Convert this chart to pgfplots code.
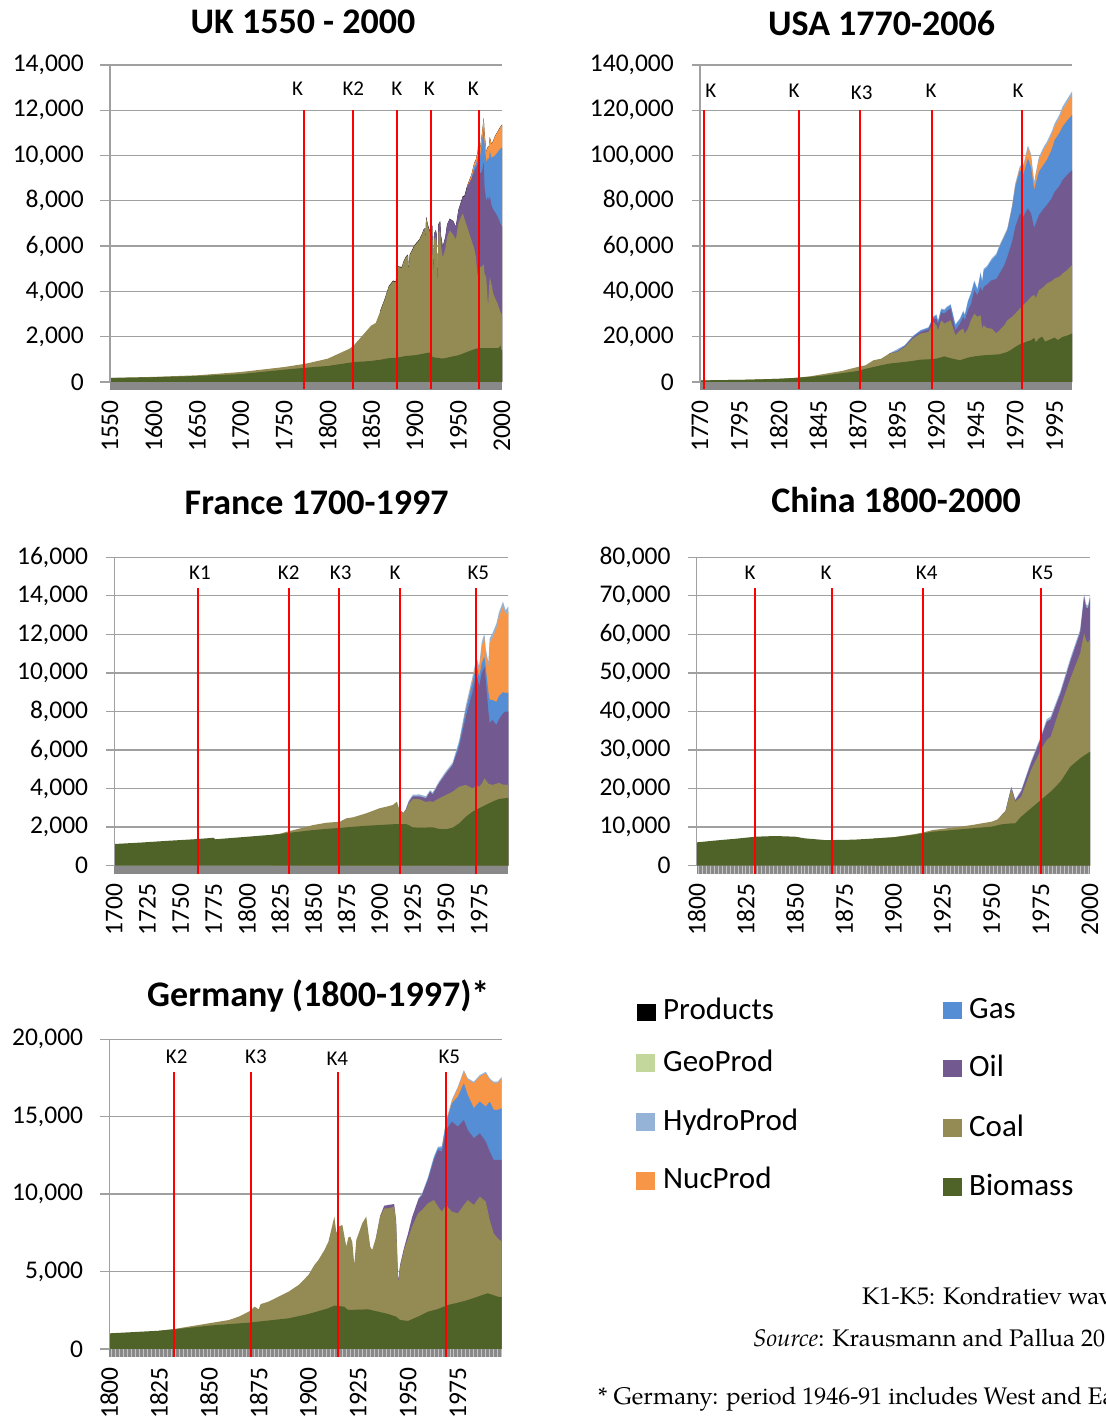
\documentclass[border=0pt]{standalone}
\usepackage{pgfplots}
\pgfplotsset{compat=1.18}
\usepackage{fontspec}
\setmainfont{Carlito}
\newfontfamily\pal{TeX Gyre Pagella}
\definecolor{cbio}{HTML}{4F6228}
\definecolor{ccoal}{HTML}{948A54}
\definecolor{coil}{HTML}{725990}
\definecolor{cgas}{HTML}{558ED5}
\definecolor{cnuc}{HTML}{F79646}
\definecolor{chydro}{HTML}{95B3D7}
\definecolor{cgeo}{HTML}{C3D69B}
\definecolor{gridgray}{HTML}{A0A0A0}
\definecolor{bandgray}{HTML}{898989}
\definecolor{stripegray}{HTML}{C4C4C4}
\newcommand\tickfont{\fontsize{25.5bp}{30bp}\selectfont}
\newcommand\titlefont{\fontsize{36bp}{42bp}\selectfont\bfseries}
\newcommand\kfont{\fontsize{21bp}{25bp}\selectfont}
\newcommand\legfont{\fontsize{31bp}{36bp}\selectfont}
\newcommand\notefont{\fontsize{24bp}{28bp}\selectfont\pal}
\newcommand\klabel[3]{\node[anchor=base,inner sep=0pt,font=\kfont] at (#1bp,#2bp) {#3};}
\pgfplotsset{
  panel/.style={
    scale only axis, clip=false, anchor=south west,
    axis line style={draw=none},
    major tick length=0pt,
    ymajorgrids, xmajorgrids=false,
    grid style={draw=gridgray, line width=1.3bp},
    tick label style={font=\tickfont},
    yticklabel style={anchor=east, inner sep=0pt},
    yticklabel shift=26bp,
    xticklabel style={rotate=90, anchor=east, inner sep=0pt},
    xticklabel shift=18bp,
    scaled y ticks=false,
    /pgf/number format/assume math mode=true,
    yticklabel={\pgfmathprintnumber[fixed,precision=0,1000 sep={,}]{\tick}},
    ymin=0,
  },
  kline/.style={red, line width=2bp},
}
\begin{document}
\begin{tikzpicture}
\path[use as bounding box] (0,0) rectangle (1106bp,1420bp);
\clip (0,0) rectangle (1106bp,1420bp);

% ================= UK =================
\begin{axis}[panel, at={(110bp,1038bp)}, width=392bp, height=317bp,
  xmin=1550, xmax=2000, ymax=14000, ytick={0,2000,4000,6000,8000,10000,12000,14000},
  xtick={1550,1600,1650,1700,1750,1800,1850,1900,1950,2000}, xticklabels={1550,1600,1650,1700,1750,1800,1850,1900,1950,2000}]
\addplot[fill=black, draw=none] coordinates {(1860,3130)(1865,3630)(1870,4230)(1875,4480)(1878,4430)(1880,5110)(1885,5080)(1887,5330)(1890,5560)(1892,5630)(1893,4930)(1894,5630)(1895,5700)(1900,6070)(1905,6290)(1908,6530)(1910,6735)(1911,6800)(1912,6380)(1913,7290)(1915,6930)(1917,6710)(1919,6680)(1920,6920)(1921,4760)(1922,6560)(1924,6710)(1925,6510)(1926,4310)(1927,6960)(1929,7110)(1930,6460)(1932,5980)(1935,6410)(1937,6960)(1940,7210)(1944,7110)(1947,6860)(1950,7600)(1953,7970)(1955,8210)(1957,8230)(1960,8670)(1965,9170)(1968,9665)(1970,9815)(1972,10165)(1973,10665)(1974,10315)(1975,10365)(1977,10965)(1979,11665)(1980,10965)(1982,10165)(1984,10415)(1985,10415)(1986,10815)(1988,10515)(1990,10665)(1992,10865)(1995,11065)(1998,11265)(2000,11365)} \closedcycle;
\addplot[fill=cnuc, draw=none] coordinates {(1960,8650)(1965,9150)(1968,9650)(1970,9800)(1972,10150)(1973,10650)(1974,10300)(1975,10350)(1977,10950)(1979,11650)(1980,10950)(1982,10150)(1984,10400)(1985,10400)(1986,10800)(1988,10500)(1990,10650)(1992,10850)(1995,11050)(1998,11250)(2000,11350)} \closedcycle;
\addplot[fill=cgas, draw=none] coordinates {(1965,8990)(1968,9500)(1970,9600)(1972,9900)(1973,10400)(1974,10000)(1975,10000)(1977,10600)(1979,11200)(1980,10500)(1982,9700)(1984,9900)(1985,9800)(1986,10200)(1988,9900)(1990,9950)(1992,10000)(1995,10150)(1998,10300)(2000,10350)} \closedcycle;
\addplot[fill=coil, draw=none] coordinates {(1910,6700)(1911,6770)(1912,6350)(1913,7260)(1915,6900)(1917,6680)(1919,6650)(1920,6900)(1921,4750)(1922,6550)(1924,6700)(1925,6500)(1926,4300)(1927,6950)(1929,7100)(1930,6450)(1932,5970)(1935,6400)(1937,6950)(1940,7200)(1944,7100)(1947,6850)(1950,7590)(1953,7950)(1955,8180)(1957,8200)(1960,8620)(1965,8990)(1968,9300)(1970,9450)(1972,9600)(1973,9800)(1974,9300)(1975,9200)(1977,9300)(1979,9700)(1980,8600)(1982,8000)(1984,8200)(1985,8000)(1986,8200)(1988,7800)(1990,7600)(1992,7500)(1995,7300)(1998,7000)(2000,6850)} \closedcycle;
\addplot[fill=ccoal, draw=none] coordinates {(1550,180)(1600,225)(1650,295)(1700,440)(1750,660)(1775,810)(1800,1030)(1825,1470)(1830,1620)(1840,2060)(1850,2500)(1855,2600)(1860,3100)(1865,3600)(1870,4200)(1875,4450)(1878,4400)(1880,5080)(1885,5050)(1887,5300)(1890,5530)(1892,5600)(1893,4900)(1894,5600)(1895,5670)(1900,6040)(1905,6260)(1908,6500)(1910,6700)(1911,6750)(1912,6300)(1913,7220)(1915,6850)(1917,6600)(1919,6560)(1920,6750)(1921,4500)(1922,6300)(1924,6400)(1925,6200)(1926,3900)(1927,6600)(1929,6700)(1930,6000)(1932,5500)(1935,5900)(1937,6400)(1940,6700)(1944,6500)(1947,6300)(1950,7000)(1953,7300)(1955,7440)(1957,7200)(1960,6850)(1965,6260)(1968,5900)(1970,5530)(1972,4600)(1973,5300)(1974,4700)(1975,5080)(1977,5100)(1979,5200)(1980,4790)(1982,4600)(1984,3320)(1985,4100)(1986,4640)(1988,4300)(1990,3900)(1992,3700)(1995,3460)(1998,3100)(2000,2950)} \closedcycle;
\addplot[fill=cbio, draw=none] coordinates {(1550,175)(1600,210)(1650,265)(1700,350)(1750,545)(1775,630)(1800,707)(1825,850)(1830,884)(1840,900)(1850,930)(1860,980)(1870,1050)(1880,1075)(1890,1150)(1900,1180)(1910,1250)(1915,1290)(1919,1300)(1920,1100)(1925,1070)(1930,1040)(1935,1050)(1940,1100)(1945,1140)(1950,1180)(1955,1250)(1960,1330)(1965,1400)(1970,1470)(1975,1500)(1980,1500)(1985,1500)(1990,1500)(1995,1500)(1997,1520)(1998,1650)(1999,1450)(2000,1400)} \closedcycle;
\fill[bandgray] (rel axis cs:0,0) rectangle ([yshift=-8bp]rel axis cs:1,0);
\draw[gridgray, line width=1.3bp] (rel axis cs:0,0) -- (rel axis cs:0,1);
\pgfplotsinvokeforeach{0,2000,4000,6000,8000,10000,12000,14000}{\draw[gridgray, line width=1.3bp] (axis cs:1550,#1) -- ([xshift=-10bp]axis cs:1550,#1);}
\addplot[kline] coordinates {(1772.7,-300)(1772.7,12000)};
\addplot[kline] coordinates {(1829,-300)(1829,12000)};
\addplot[kline] coordinates {(1879.5,-300)(1879.5,12000)};
\addplot[kline] coordinates {(1918.5,-300)(1918.5,12000)};
\addplot[kline] coordinates {(1973.6,-300)(1973.6,12000)};
\end{axis}

% ================= USA =================
\begin{axis}[panel, at={(700bp,1038bp)}, width=372bp, height=317bp,
  xmin=1770, xmax=2006, ymax=140000, ytick={0,20000,40000,60000,80000,100000,120000,140000},
  xtick={1770,1795,1820,1845,1870,1895,1920,1945,1970,1995}, xticklabels={1770,1795,1820,1845,1870,1895,1920,1945,1970,1995}]
\addplot[fill=chydro, draw=none] coordinates {(1890,12600)(1900,16300)(1905,20300)(1910,22950)(1915,24200)(1918,28950)(1920,29870)(1921,27100)(1923,32450)(1925,32050)(1927,33450)(1929,34350)(1932,25500)(1935,28200)(1937,31500)(1938,29800)(1940,35900)(1942,39600)(1944,44850)(1946,41150)(1948,48550)(1949,44650)(1950,50050)(1952,51200)(1955,54500)(1958,56700)(1960,60400)(1965,67900)(1968,78100)(1970,87600)(1973,95600)(1975,95500)(1978,104400)(1980,100700)(1982,88300)(1983,92300)(1985,99300)(1988,103800)(1990,106000)(1993,110400)(1995,114200)(1998,118000)(2000,121600)(2003,125000)(2006,128300)} \closedcycle;
\addplot[fill=cnuc, draw=none] coordinates {(1960,59680)(1965,67100)(1968,77200)(1970,86600)(1973,94500)(1975,94300)(1978,103160)(1980,99470)(1982,86950)(1983,91000)(1985,98000)(1988,102500)(1990,104630)(1993,109000)(1995,112730)(1998,116500)(2000,120100)(2003,123500)(2006,126730)} \closedcycle;
\addplot[fill=cgas, draw=none] coordinates {(1890,12530)(1895,13700)(1900,16100)(1905,20100)(1910,22700)(1915,23900)(1918,28600)(1920,29470)(1921,26700)(1923,32000)(1925,31600)(1927,33000)(1929,33890)(1932,25050)(1935,27700)(1937,31000)(1938,29300)(1940,35370)(1942,39000)(1944,44210)(1946,40520)(1948,47890)(1949,44000)(1950,49370)(1952,50500)(1955,53790)(1958,56000)(1960,59680)(1963,64000)(1965,67050)(1968,77000)(1970,86210)(1973,93580)(1975,91370)(1978,98730)(1980,95050)(1982,84730)(1983,87500)(1985,92840)(1988,96000)(1990,98000)(1993,102500)(1995,106840)(1998,110000)(2000,112730)(2003,115500)(2006,117890)} \closedcycle;
\addplot[fill=coil, draw=none] coordinates {(1890,12530)(1895,13500)(1900,15800)(1905,19700)(1910,22100)(1915,23300)(1918,28000)(1920,28000)(1921,25500)(1923,30700)(1925,30210)(1927,31500)(1929,32420)(1932,22840)(1935,25790)(1937,28740)(1938,27260)(1940,31680)(1942,34500)(1944,40520)(1946,38300)(1948,42000)(1949,40000)(1950,42000)(1952,43000)(1955,44950)(1958,45500)(1960,47890)(1963,51500)(1965,55260)(1968,62000)(1970,68520)(1973,74420)(1975,72940)(1978,76630)(1980,74420)(1982,68000)(1983,70000)(1985,73680)(1988,76500)(1990,78100)(1993,81000)(1995,84000)(1998,86500)(2000,89160)(2003,91500)(2006,93580)} \closedcycle;
\addplot[fill=ccoal, draw=none] coordinates {(1770,700)(1780,800)(1800,1000)(1820,1420)(1830,1800)(1840,2500)(1850,3700)(1860,4860)(1870,6630)(1875,7370)(1880,9580)(1885,10300)(1890,12530)(1895,13260)(1900,15470)(1905,19160)(1910,21370)(1915,22100)(1918,26530)(1920,25050)(1921,22840)(1923,27260)(1925,25790)(1927,26530)(1929,27260)(1932,20630)(1935,22840)(1937,23580)(1938,21370)(1940,23580)(1942,27500)(1944,30210)(1946,28740)(1948,29500)(1949,23580)(1950,25050)(1952,23800)(1955,23580)(1958,21500)(1960,22840)(1963,25000)(1965,27260)(1968,28800)(1970,30210)(1973,32500)(1975,33890)(1978,36000)(1980,37580)(1982,38500)(1983,37000)(1985,40520)(1988,42000)(1990,43470)(1993,44500)(1995,45680)(1998,46500)(2000,47890)(2003,49500)(2006,51580)} \closedcycle;
\addplot[fill=cbio, draw=none] coordinates {(1770,700)(1780,800)(1800,1000)(1820,1400)(1830,1770)(1840,2300)(1850,2950)(1860,3900)(1870,4860)(1875,5800)(1880,6600)(1885,7400)(1890,8100)(1895,8500)(1900,8840)(1905,9300)(1910,9870)(1915,10000)(1920,10300)(1925,11300)(1930,10300)(1935,9580)(1940,10750)(1945,11400)(1950,11790)(1955,12000)(1960,12230)(1965,13260)(1968,14500)(1970,15470)(1973,16700)(1975,17240)(1978,18000)(1980,18420)(1982,19500)(1983,17500)(1985,19160)(1987,20000)(1989,17800)(1990,18130)(1993,19000)(1995,19600)(1997,18500)(2000,19900)(2003,20500)(2006,21370)} \closedcycle;
\fill[bandgray] (rel axis cs:0,0) rectangle ([yshift=-8bp]rel axis cs:1,0);
\draw[gridgray, line width=1.3bp] (rel axis cs:0,0) -- (rel axis cs:0,1);
\pgfplotsinvokeforeach{0,20000,40000,60000,80000,100000,120000,140000}{\draw[gridgray, line width=1.3bp] (axis cs:1770,#1) -- ([xshift=-8bp]axis cs:1770,#1);}
\addplot[kline] coordinates {(1772.5,-3000)(1772.5,120000)};
\addplot[kline] coordinates {(1832.8,-3000)(1832.8,120000)};
\addplot[kline] coordinates {(1871.4,-3000)(1871.4,120000)};
\addplot[kline] coordinates {(1917,-3000)(1917,120000)};
\addplot[kline] coordinates {(1974,-3000)(1974,120000)};
\end{axis}

% ================= France =================
\begin{axis}[panel, at={(114.3bp,554.3bp)}, width=394bp, height=308.4bp,
  xmin=1700, xmax=1997, ymax=16000, ytick={0,2000,4000,6000,8000,10000,12000,14000,16000},
  xtick={1700,1725,1750,1775,1800,1825,1850,1875,1900,1925,1950,1975}, xticklabels={1700,1725,1750,1775,1800,1825,1850,1875,1900,1925,1950,1975}]
\addplot[fill=chydro, draw=none] coordinates {(1920,3000)(1922,3380)(1925,3680)(1930,3700)(1935,3600)(1938,3920)(1940,3800)(1945,4400)(1950,4900)(1955,5350)(1960,6500)(1965,8300)(1970,9800)(1973,10800)(1975,10350)(1977,11600)(1979,12050)(1980,11250)(1982,10550)(1983,11800)(1985,12050)(1988,12550)(1990,13150)(1993,13700)(1995,13250)(1997,13450)} \closedcycle;
\addplot[fill=cnuc, draw=none] coordinates {(1960,6350)(1965,8100)(1970,9600)(1973,10600)(1975,10100)(1977,11360)(1979,11800)(1980,11000)(1982,10300)(1983,11550)(1985,11800)(1988,12300)(1990,12900)(1993,13440)(1995,13000)(1997,13200)} \closedcycle;
\addplot[fill=cgas, draw=none] coordinates {(1955,5220)(1960,6350)(1965,8080)(1970,9500)(1973,10420)(1975,9800)(1977,10500)(1979,10850)(1980,10300)(1982,9000)(1983,8600)(1985,8600)(1988,8500)(1990,8800)(1993,9000)(1995,8960)(1997,8960)} \closedcycle;
\addplot[fill=coil, draw=none] coordinates {(1915,2890)(1918,2740)(1920,2950)(1922,3300)(1925,3600)(1930,3600)(1935,3500)(1938,3840)(1940,3700)(1945,4300)(1950,4790)(1955,5220)(1960,6180)(1965,7730)(1970,9000)(1973,9980)(1975,9300)(1977,9980)(1979,10330)(1980,9640)(1982,8000)(1983,7400)(1985,7560)(1988,7300)(1990,7600)(1993,7900)(1995,8000)(1997,7990)} \closedcycle;
\addplot[fill=ccoal, draw=none] coordinates {(1820,1610)(1825,1660)(1830,1760)(1840,1930)(1850,2110)(1860,2230)(1870,2280)(1875,2460)(1880,2510)(1890,2720)(1900,2980)(1905,3060)(1910,3150)(1913,3320)(1915,2890)(1918,2720)(1920,2890)(1922,3240)(1925,3450)(1930,3450)(1935,3300)(1938,3350)(1940,3300)(1945,3500)(1950,3670)(1955,3840)(1960,4100)(1965,4190)(1970,4010)(1973,4150)(1975,4100)(1977,4250)(1979,4530)(1980,4450)(1982,4250)(1985,4190)(1988,4250)(1990,4300)(1993,4200)(1995,4200)(1997,4190)} \closedcycle;
\addplot[fill=cbio, draw=none] coordinates {(1700,1125)(1720,1200)(1740,1290)(1760,1370)(1775,1450)(1776,1370)(1800,1500)(1825,1640)(1830,1690)(1840,1770)(1850,1850)(1860,1910)(1870,1960)(1875,1990)(1880,2020)(1890,2070)(1900,2110)(1910,2150)(1920,2160)(1922,2100)(1925,1990)(1930,1970)(1940,1990)(1945,1900)(1950,1890)(1955,1970)(1960,2200)(1965,2540)(1970,2800)(1975,2980)(1980,3150)(1985,3320)(1990,3460)(1997,3520)} \closedcycle;
\fill[bandgray] (rel axis cs:0,0) rectangle ([yshift=-8bp]rel axis cs:1,0);
\draw[gridgray, line width=1.3bp] (rel axis cs:0,0) -- (rel axis cs:0,1);
\pgfplotsinvokeforeach{0,2000,4000,6000,8000,10000,12000,14000,16000}{\draw[gridgray, line width=1.3bp] (axis cs:1700,#1) -- ([xshift=-8bp]axis cs:1700,#1);}
\addplot[kline] coordinates {(1763.3,-415)(1763.3,14390)};
\addplot[kline] coordinates {(1831.4,-415)(1831.4,14390)};
\addplot[kline] coordinates {(1869.6,-415)(1869.6,14390)};
\addplot[kline] coordinates {(1915.3,-415)(1915.3,14390)};
\addplot[kline] coordinates {(1972.3,-415)(1972.3,14390)};
\end{axis}

% ================= China =================
\begin{axis}[panel, at={(696.7bp,554.3bp)}, width=393.3bp, height=308.4bp,
  xmin=1800, xmax=2000, ymax=80000, ytick={0,10000,20000,30000,40000,50000,60000,70000,80000},
  xtick={1800,1825,1850,1875,1900,1925,1950,1975,2000}, xticklabels={1800,1825,1850,1875,1900,1925,1950,1975,2000}]
\addplot[fill=chydro, draw=none] coordinates {(1955,13200)(1957,14200)(1960,20500)(1962,17150)(1965,19600)(1970,27100)(1975,33600)(1978,38000)(1980,38700)(1985,45400)(1990,53800)(1995,61300)(1997,70500)(1998,67800)(1999,67500)(2000,70100)} \closedcycle;
\addplot[fill=coil, draw=none] coordinates {(1955,13150)(1957,14100)(1960,20300)(1962,16900)(1965,19200)(1970,26550)(1975,33040)(1978,37360)(1980,38000)(1985,44710)(1990,53000)(1995,60500)(1997,69790)(1998,67000)(1999,66800)(2000,69360)} \closedcycle;
\addplot[fill=ccoal, draw=none] coordinates {(1890,7050)(1900,7400)(1910,8130)(1915,8600)(1920,9250)(1930,9860)(1940,10550)(1950,11420)(1953,12000)(1955,13150)(1957,14010)(1960,20060)(1962,16600)(1965,17900)(1970,24820)(1975,30010)(1978,32600)(1980,33470)(1985,41250)(1990,48500)(1995,55090)(1997,60280)(1998,58500)(1999,57800)(2000,58980)} \closedcycle;
\addplot[fill=cbio, draw=none] coordinates {(1800,6050)(1810,6550)(1820,7000)(1825,7260)(1830,7520)(1840,7700)(1850,7520)(1855,7090)(1865,6660)(1870,6660)(1880,6750)(1890,7050)(1900,7350)(1910,7960)(1915,8390)(1920,8820)(1930,9250)(1940,9690)(1950,10120)(1955,10720)(1960,10980)(1962,11000)(1965,12710)(1970,14880)(1975,17040)(1980,19200)(1985,21790)(1990,25690)(1995,27850)(2000,29580)} \closedcycle;
\fill[bandgray] (rel axis cs:0,0) rectangle ([yshift=-8bp]rel axis cs:1,0);
\pgfplotsinvokeforeach{1801,1803,...,1999}{\draw[stripegray, line width=0.8bp] (axis cs:#1,0) -- ([yshift=-8bp]axis cs:#1,0);}
\draw[gridgray, line width=1.3bp] (rel axis cs:0,0) -- (rel axis cs:0,1);
\pgfplotsinvokeforeach{0,10000,20000,30000,40000,50000,60000,70000,80000}{\draw[gridgray, line width=1.3bp] (axis cs:1800,#1) -- ([xshift=-9bp]axis cs:1800,#1);}
\addplot[kline] coordinates {(1829.7,-2075)(1829.7,72110)};
\addplot[kline] coordinates {(1868.7,-2075)(1868.7,72110)};
\addplot[kline] coordinates {(1915.3,-2075)(1915.3,72110)};
\addplot[kline] coordinates {(1975.2,-2075)(1975.2,72110)};
\end{axis}

% ================= Germany =================
\begin{axis}[panel, at={(109.3bp,71bp)}, width=392.4bp, height=309.7bp,
  xmin=1800, xmax=1997, ymax=20000, ytick={0,5000,10000,15000,20000},
  xtick={1800,1825,1850,1875,1900,1925,1950,1975}, xticklabels={1800,1825,1850,1875,1900,1925,1950,1975}]
\addplot[fill=chydro, draw=none] coordinates {(1955,9700)(1957,10050)(1960,11100)(1963,12450)(1965,13060)(1967,13100)(1969,14700)(1972,16100)(1975,16940)(1978,18010)(1980,17480)(1983,17260)(1986,17690)(1989,17900)(1991,17470)(1993,17260)(1995,17260)(1997,17580)} \closedcycle;
\addplot[fill=cnuc, draw=none] coordinates {(1967,13000)(1969,14600)(1972,16000)(1975,16840)(1978,17910)(1980,17380)(1983,17160)(1986,17590)(1989,17800)(1991,17370)(1993,17160)(1995,17160)(1997,17480)} \closedcycle;
\addplot[fill=cgas, draw=none] coordinates {(1957,9950)(1960,11000)(1963,12350)(1965,12960)(1967,13000)(1969,14570)(1972,15870)(1975,16300)(1978,17160)(1980,16400)(1983,15550)(1986,15980)(1989,15650)(1991,15980)(1993,15440)(1995,15440)(1997,15550)} \closedcycle;
\addplot[fill=coil, draw=none] coordinates {(1934,7260)(1936,8600)(1938,9250)(1940,9300)(1943,9360)(1944,8300)(1945,4400)(1946,5450)(1948,6550)(1950,7470)(1952,8500)(1955,9620)(1957,9950)(1960,10920)(1963,12210)(1965,12850)(1967,12750)(1969,14140)(1972,14680)(1975,14360)(1978,14790)(1980,14140)(1983,13610)(1986,13930)(1989,13390)(1991,12750)(1993,12210)(1995,12210)(1997,12210)} \closedcycle;
\addplot[fill=ccoal, draw=none] coordinates {(1825,1180)(1833,1300)(1850,1660)(1860,1870)(1865,2090)(1870,2410)(1873,2730)(1875,2560)(1876,2900)(1880,3060)(1885,3380)(1890,3700)(1895,4130)(1900,4780)(1903,5430)(1905,5750)(1908,6390)(1910,6930)(1913,8550)(1914,7470)(1915,7900)(1917,8010)(1918,7300)(1919,6610)(1920,7200)(1921,7260)(1922,6900)(1923,5430)(1924,7040)(1927,8120)(1929,8550)(1931,6610)(1932,6390)(1934,7260)(1936,8550)(1938,9080)(1940,9080)(1943,9190)(1944,8120)(1945,4240)(1946,5320)(1948,6390)(1950,7150)(1952,7900)(1955,8760)(1957,8980)(1960,9410)(1963,9620)(1965,9190)(1967,8870)(1969,9300)(1972,8870)(1975,8760)(1978,9300)(1980,9620)(1983,9300)(1986,9840)(1989,9520)(1991,8330)(1993,7470)(1995,7150)(1997,6930)} \closedcycle;
\addplot[fill=cbio, draw=none] coordinates {(1800,1010)(1825,1180)(1833,1270)(1850,1510)(1870,1700)(1875,1770)(1890,1980)(1900,2260)(1910,2630)(1913,2800)(1918,2730)(1919,2600)(1920,2520)(1930,2560)(1935,2410)(1940,2260)(1944,2090)(1946,1870)(1950,1810)(1955,2090)(1960,2410)(1965,2580)(1970,2840)(1975,2990)(1980,3160)(1985,3380)(1990,3600)(1995,3380)(1997,3340)} \closedcycle;
\fill[bandgray] (rel axis cs:0,0) rectangle ([yshift=-8bp]rel axis cs:1,0);
\pgfplotsinvokeforeach{1801,1803,...,1997}{\draw[stripegray, line width=0.8bp] (axis cs:#1,0) -- ([yshift=-8bp]axis cs:#1,0);}
\draw[gridgray, line width=1.3bp] (rel axis cs:0,0) -- (rel axis cs:0,1);
\pgfplotsinvokeforeach{0,5000,10000,15000,20000}{\draw[gridgray, line width=1.3bp] (axis cs:1800,#1) -- ([xshift=-9bp]axis cs:1800,#1);}
\addplot[kline] coordinates {(1832.5,-517)(1832.5,17910)};
\addplot[kline] coordinates {(1871.2,-517)(1871.2,17910)};
\addplot[kline] coordinates {(1914.6,-517)(1914.6,17910)};
\addplot[kline] coordinates {(1969.2,-517)(1969.2,17910)};
\end{axis}

% ================= Titles =================
\node[anchor=base, inner sep=0pt, font=\titlefont] at (303bp,1386.7bp) {UK 1550 - 2000};
\node[anchor=base, inner sep=0pt, font=\titlefont] at (881.7bp,1384bp) {USA 1770-2006};
\node[anchor=base, inner sep=0pt, font=\titlefont] at (316.7bp,905.7bp) {France 1700-1997};
\node[anchor=base, inner sep=0pt, font=\titlefont] at (896bp,907.7bp) {China 1800-2000};
\node[anchor=base, inner sep=0pt, font=\titlefont] at (318.3bp,413.3bp) {Germany (1800-1997)*};

% ================= K labels =================
\klabel{297.7}{1324}{K}\klabel{353.3}{1324}{K2}\klabel{396.7}{1324}{K}\klabel{429.3}{1324}{K}\klabel{473.3}{1324}{K}
\klabel{710.7}{1322.3}{K}\klabel{794}{1322.3}{K}\klabel{861.7}{1320.7}{K3}\klabel{931}{1322.3}{K}\klabel{1018}{1322.3}{K}
\klabel{200}{840}{K1}\klabel{288.7}{840}{K2}\klabel{340.7}{840}{K3}\klabel{395}{840}{K}\klabel{478.3}{840}{K5}
\klabel{750}{840}{K}\klabel{826}{840}{K}\klabel{926.7}{840}{K4}\klabel{1042.7}{840}{K5}
\klabel{176.7}{356.7}{K2}\klabel{256}{356.7}{K3}\klabel{337.3}{354.7}{K4}\klabel{449.3}{356.7}{K5}

% ================= Legend =================
\fill[black]  (637bp,399bp) rectangle (656bp,416bp);
\fill[cgeo]   (636bp,348bp) rectangle (655bp,366bp);
\fill[chydro] (636bp,289bp) rectangle (655bp,307bp);
\fill[cnuc]   (636bp,230bp) rectangle (655bp,248bp);
\fill[cgas]   (943bp,401bp) rectangle (962bp,418bp);
\fill[coil]   (943bp,343bp) rectangle (962bp,360bp);
\fill[ccoal]  (943bp,283bp) rectangle (962bp,301bp);
\fill[cbio]   (943bp,224bp) rectangle (962bp,242bp);
\node[anchor=base west, inner sep=0pt, font=\legfont] at (663bp,400bp) {Products};
\node[anchor=base west, inner sep=0pt, font=\legfont] at (663bp,348bp) {GeoProd};
\node[anchor=base west, inner sep=0pt, font=\legfont] at (663bp,289bp) {HydroProd};
\node[anchor=base west, inner sep=0pt, font=\legfont] at (663bp,231bp) {NucProd};
\node[anchor=base west, inner sep=0pt, font=\legfont] at (969bp,401bp) {Gas};
\node[anchor=base west, inner sep=0pt, font=\legfont] at (969bp,343bp) {Oil};
\node[anchor=base west, inner sep=0pt, font=\legfont] at (969bp,283bp) {Coal};
\node[anchor=base west, inner sep=0pt, font=\legfont] at (969bp,224bp) {Biomass};

% ================= Notes =================
\node[anchor=base west, inner sep=0pt, font=\notefont] at (862bp,115bp) {K1-K5: Kondratiev waves};
\node[anchor=base west, inner sep=0pt, font=\notefont] at (753bp,73bp) {\textit{Source}: Krausmann and Pallua 2012};
\node[anchor=base west, inner sep=0pt, font=\notefont] at (598bp,16bp) {* Germany: period 1946-91 includes West and East Germany};
\end{tikzpicture}
\end{document}
